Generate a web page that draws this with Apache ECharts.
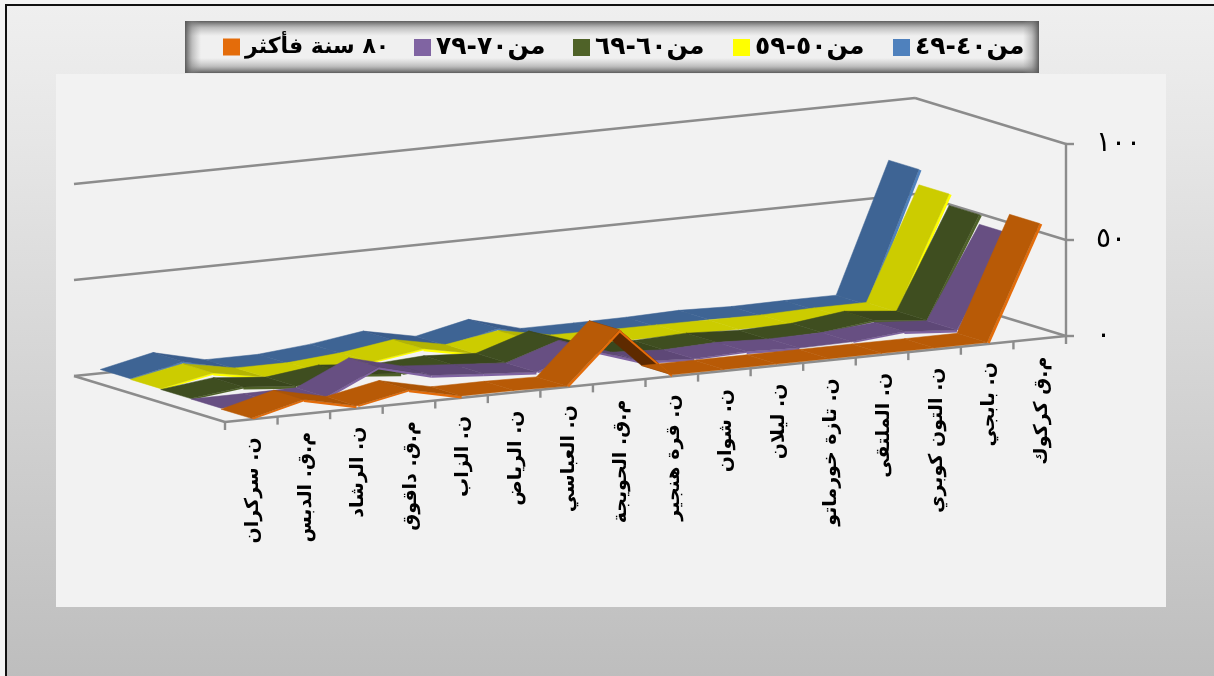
<!DOCTYPE html>
<html><head><meta charset="utf-8">
<style>html,body{margin:0;padding:0;background:#f4f4f4}#c{width:1214px;height:676px}</style>
<script src="https://cdn.jsdelivr.net/npm/echarts@6/dist/echarts.min.js"></script>
</head><body><div id="c"></div>
<script>
const categories = ['ن. سركران','م.ق. الدبس','ن. الرشاد','م.ق. داقوق','ن. الزاب','ن. الرياض','ن. العباسي','م.ق. الحويجة','ن. قرة هنجير','ن. شوان','ن. ليلان','ن. تازة خورماتو','ن. الملتقى','ن. التون كوبري','ن. بابجي','م.ق كركوك'];
const age40 = [2,8,1.5,1.5,4,8,2.5,8.5,1,1,1.2,2,1.2,1.5,1.5,69];
const age50 = [1.6,7,2,2,4.3,8.4,3,7.5,2.4,2,2,1.8,1.6,2.4,2.5,61];
const age60 = [1.2,4.5,2,5.5,3,4.7,3.2,12,3,1.5,2.5,1.2,2,5.5,2.8,55];
const age70 = [1,1,1.2,14,7,5,3,12,3,1.5,2.5,1.5,2,4.5,2.5,50];
const age80 = [0.5,7.5,1.5,7,1,1,0.5,27,0.8,0.8,0.8,0.8,0.8,0.8,0.8,60];
const names = ['من٤٠-٤٩','من٥٠-٥٩','من٦٠-٦٩','من٧٠-٧٩','٨٠ سنة فأكثر'];
const yTicks = [0,50,100];
const yTickLabels = {0:'٠',50:'٥٠',100:'١٠٠'};

const looks = [
 {edge:'#4F81BD',top:'#3E6494',dim:'#3A5D8C',under:'#243C5C',legendX:888,legendY:30,size:25},
 {edge:'#FFFF00',top:'#CCCC00',dim:'#B4B402',under:'#6E6E00',legendX:728,legendY:30,size:25},
 {edge:'#4F6228',top:'#3F4E20',dim:'#3A471D',under:'#262F12',legendX:568,legendY:30,size:25},
 {edge:'#8064A2',top:'#674F82',dim:'#5E4877',under:'#3C2E4C',legendX:409,legendY:30,size:25},
 {edge:'#E46C0A',top:'#B85A06',dim:'#AC5405',under:'#5E2A00',legendX:218,legendY:31,size:22}
];
const values = [age40,age50,age60,age70,age80];
const DEPTH_X=-151, DEPTH_Y=-46, SLOPE=86/841, RIGHT=1066, N=5, AXIS='#8C8C8C';

function project(api,cat,frac,v,d){
  const p=api.coord([cat,v]);
  const band=api.size([1,0])[0];
  const x=p[0]+frac*band;
  const y=p[1]+(RIGHT-x)*SLOPE;
  return [x+DEPTH_X*d/N,y+DEPTH_Y*d/N];
}
function ribbon(s){
  const d=N-1-s, arr=values[s], look=looks[s];
  return function(params,api){
    const i=api.value(0);
    if(i>=arr.length-1) return {type:'group',children:[]};
    const v0=api.value(1), v1=arr[i+1], dv=v1-v0;
    const a=project(api,i,0,v0,d), b=project(api,i+1,0,v1,d),
          c=project(api,i+1,0,v1,d+1), e=project(api,i,0,v0,d+1);
    const cross=(b[0]-a[0])*(e[1]-a[1])-(b[1]-a[1])*(e[0]-a[0]);
    const under=cross>0;
    const fill=under?look.under:(dv<-1?look.dim:look.top);
    const ch=[];
    if(Math.abs(dv)>=1){
      const ox=dv>0?2.5:0, oy=dv>0?1:2.5;
      ch.push({type:'polygon',z2:1,shape:{points:[a,b,[b[0]+ox,b[1]+oy],[a[0]+ox,a[1]+oy]]},style:{fill:look.edge}});
    }
    ch.push({type:'polygon',z2:under?0:2,shape:{points:[a,b,c,e]},style:{fill:fill,stroke:fill,lineWidth:.5}});
    if(under) ch.push({type:'polygon',z2:3,shape:{points:[a,b,[b[0]+2,b[1]+2],[a[0]+2,a[1]+2]]},style:{fill:look.edge}});
    return {type:'group',children:ch};
  };
}
function line(p,q){return {type:'line',shape:{x1:p[0],y1:p[1],x2:q[0],y2:q[1]},style:{stroke:AXIS,lineWidth:2.4}};}
function frameItem(params,api){
  const last=categories.length-1, ch=[];
  yTicks.forEach(t=>{
    const fr=project(api,last,.5,t,0), br=project(api,last,.5,t,N), bl=project(api,0,-.5,t,N);
    ch.push(line(fr,br),line(br,bl));
  });
  const fl=project(api,0,-.5,0,0), fr=project(api,last,.5,0,0), bl=project(api,0,-.5,0,N);
  ch.push(line(fl,fr),line(fl,bl));
  categories.forEach((c,i)=>{
    const p=project(api,i,-.5,0,0);
    ch.push(line(p,[p[0],p[1]+8]));
  });
  const q=project(api,last,.5,0,0);
  ch.push(line(q,[q[0],q[1]+8]));
  return {type:'group',children:ch};
}
function labelItem(params,api){
  const i=api.value(0), p=project(api,i,0,0,0);
  return {type:'text',x:p[0]+2,y:p[1]+18,rotation:Math.PI/2,
    style:{text:categories[i],align:'right',verticalAlign:'middle',fill:'#000',font:"bold 19px 'DejaVu Sans'"}};
}
const shade=(x,y,w,h,x0,y0,x1,y1)=>({type:'rect',silent:true,z:-1,shape:{x,y,width:w,height:h},style:{fill:new echarts.graphic.LinearGradient(x0,y0,x1,y1,[{offset:0,color:'rgba(85,85,85,.95)'},{offset:.45,color:'rgba(130,130,130,.45)'},{offset:1,color:'rgba(150,150,150,0)'}])}});

const chart=echarts.init(document.getElementById('c'),null,{renderer:'canvas'});
chart.setOption({
  animation:false,
  backgroundColor:'#F4F4F4',
  textStyle:{fontFamily:"'DejaVu Sans'"},
  graphic:[
    {type:'rect',silent:true,z:-5,shape:{x:6,y:5,width:1230,height:690},style:{fill:new echarts.graphic.LinearGradient(0,0,0,1,[{offset:0,color:'#EFEFEF'},{offset:.2,color:'#E6E6E6'},{offset:1,color:'#BCBCBC'}]),stroke:'#111',lineWidth:2}},
    {type:'rect',silent:true,z:-4,shape:{x:56,y:74,width:1110,height:533},style:{fill:'#F2F2F2'}},
    {type:'rect',silent:true,z:-3,shape:{x:185,y:21,width:854,height:52},style:{fill:'#F0F0F0'}},
    shade(185,21,854,15,0,0,0,1),shade(185,58,854,15,0,1,0,0),shade(185,21,16,52,0,0,1,0),shade(1023,21,16,52,1,0,0,0)
  ],
  legend:looks.map((l,s)=>({
    data:[names[s]],left:l.legendX,top:l.legendY,itemWidth:17,itemHeight:17,icon:'rect',
    selectedMode:false,textStyle:{color:'#000',fontWeight:'bold',fontSize:l.size,fontFamily:"'DejaVu Sans'"}
  })),
  grid:{left:225,right:1214-RIGHT,top:144,bottom:676-336,containLabel:false},
  xAxis:{type:'category',data:categories,boundaryGap:true,axisLine:{show:false},axisTick:{show:false},axisLabel:{show:false},splitLine:{show:false}},
  yAxis:{type:'value',position:'right',min:0,max:100,interval:50,
    axisLine:{show:true,lineStyle:{color:AXIS,width:2.4}},axisTick:{show:true,length:8,lineStyle:{color:AXIS,width:2.4}},
    splitLine:{show:false},
    axisLabel:{margin:30,align:'left',color:'#000',fontSize:28,formatter:v=>yTickLabels[v]}},
  series:[
    {type:'custom',name:'frame',z:1,silent:true,data:[[0,0]],renderItem:frameItem,encode:{x:0,y:1}},
    {type:'custom',name:'labels',z:1,silent:true,data:categories.map((c,i)=>[i,0]),renderItem:labelItem,encode:{x:0,y:1}}
  ].concat(values.map((arr,s)=>({
    type:'custom',name:names[s],z:2+s,silent:true,clip:false,
    itemStyle:{color:looks[s].edge},
    data:arr.map((v,i)=>[i,v]),renderItem:ribbon(s),encode:{x:0,y:1}
  })))
});
</script></body></html>
